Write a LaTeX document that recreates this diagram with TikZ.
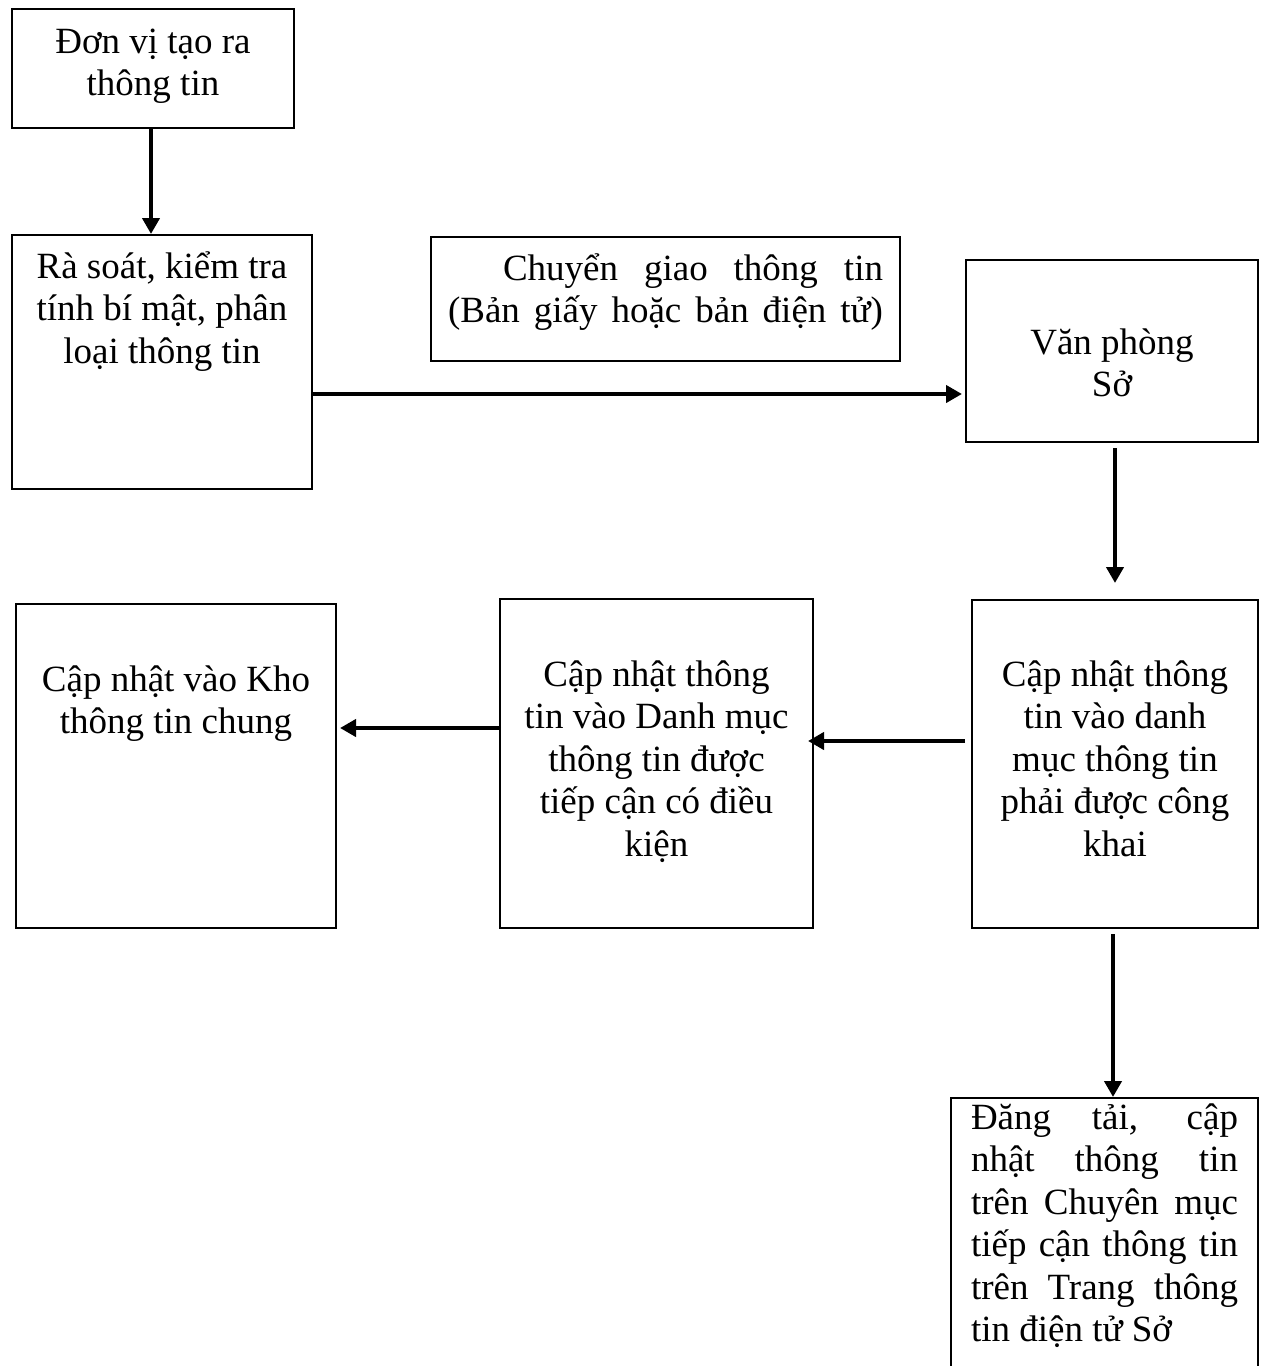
\documentclass[tikz,border=0pt]{standalone}
\usepackage{fontspec}
\setmainfont{Liberation Serif}
\usetikzlibrary{arrows.meta}
\newcommand{\boxtext}[4]{\parbox[t][#1][t]{#2}{\null\vspace*{\dimexpr#3-\baselineskip\relax}#4}}
\newcommand{\spreadline}[1]{\makebox[\linewidth][s]{#1}}

\begin{document}
\begin{tikzpicture}[x=0.4pt,y=-0.4pt,>={Triangle[length=6.4pt,width=6.8pt]},
                    line width=0.8pt,font=\fontsize{14.8}{17}\selectfont,
                    flow/.style={->,line width=1.6pt}]
  \tikzstyle{box}=[draw,anchor=north west,inner ysep=0pt,inner xsep=4pt]

  \useasboundingbox (0,0) rectangle (1263,1366);
  \clip (0,0) rectangle (1263,1366);

  \node[box] (DV) at (11,8)    {\boxtext{47.6pt}{104.8pt}{17.6pt}{\centering Đơn vị tạo ra\\thông tin}};
  \node[box] (RS) at (11,234)  {\boxtext{101.6pt}{112pt}{17.2pt}{\centering Rà soát, kiểm tra\\tính bí mật, phân\\loại thông tin}};
  \node[box,inner xsep=6.8pt] (CG) at (430,236) {\boxtext{49.6pt}{174pt}{17.2pt}{\hspace*{22pt}\makebox[\dimexpr\linewidth-22pt][s]{Chuyển giao thông tin}\\\spreadline{(Bản giấy hoặc bản điện tử)}}};
  \node[box] (VP) at (965,259) {\boxtext{72.8pt}{108.8pt}{37.6pt}{\centering Văn phòng\\Sở}};
  \node[box] (CK) at (971,599) {\boxtext{131.2pt}{106.4pt}{34.4pt}{\centering Cập nhật thông\\tin vào danh\\mục thông tin\\phải được công\\khai}};
  \node[box] (DK) at (499,598) {\boxtext{131.6pt}{117.2pt}{34.8pt}{\centering Cập nhật thông\\tin vào Danh mục\\thông tin được\\tiếp cận có điều\\kiện}};
  \node[box] (KT) at (15,603)  {\boxtext{129.6pt}{120pt}{34.8pt}{\centering Cập nhật vào Kho\\thông tin chung}};
  \node[box,inner xsep=8pt] (DT) at (950,1097) {\boxtext{121.2pt}{106.8pt}{12.4pt}{\spreadline{Đăng tải, cập}\\\spreadline{nhật thông tin}\\\spreadline{trên Chuyên mục}\\\spreadline{tiếp cận thông tin}\\\spreadline{trên Trang thông}\\tin điện tử Sở}};

  \path[flow]
        ([xshift=-0.8pt]DV.south) edge ([xshift=-0.8pt]DV.south |- RS.north)
        ([yshift=-12.8pt]RS.east) edge [shorten >=1.2pt] ([yshift=-12.8pt]RS.east -| VP.west)
        ([xshift=1.2pt]VP.south) edge [shorten <=2pt,shorten >=6.4pt] ([xshift=1.2pt]VP.south |- CK.north)
        ([xshift=-2.4pt,yshift=9.2pt]CK.west) edge ([xshift=-2.4pt,yshift=9.2pt]CK.west -| DK.east)
        ([yshift=14.2pt]DK.west) edge [shorten >=1.2pt] ([yshift=14.2pt]DK.west -| KT.east)
        ([xshift=-0.8pt]CK.south) edge [shorten <=2pt] ([xshift=-0.8pt]CK.south |- DT.north);

\end{tikzpicture}
\end{document}
